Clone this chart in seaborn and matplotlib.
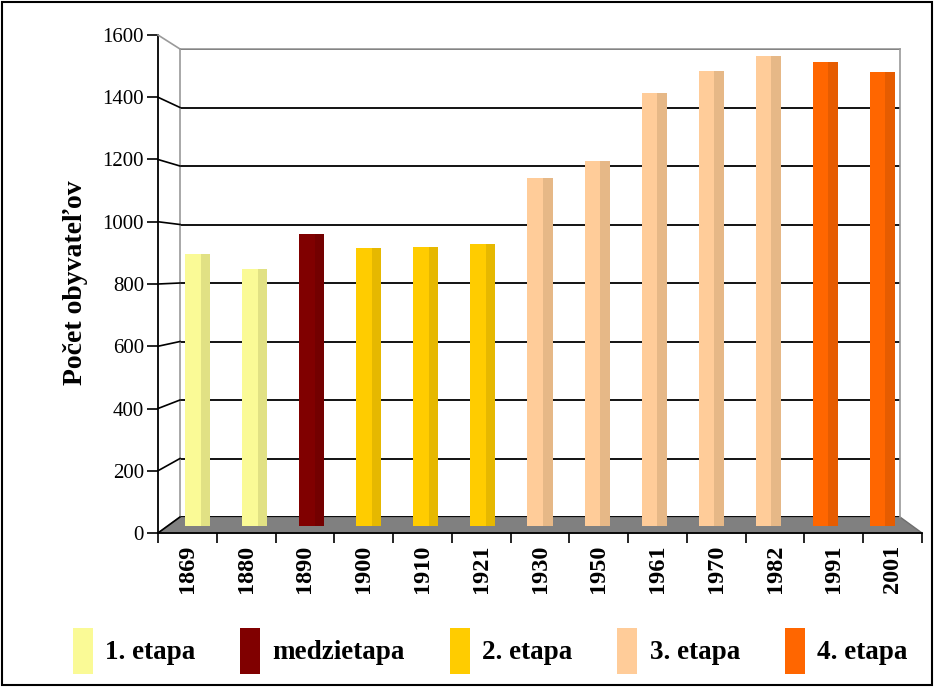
import matplotlib
matplotlib.use("Agg")
import matplotlib.pyplot as plt
import seaborn as sns
import pandas as pd
from matplotlib.patches import Polygon, Rectangle, Patch
from matplotlib.lines import Line2D

# ---------------- data ----------------
years = ["1869", "1880", "1890", "1900", "1910", "1921", "1930",
         "1950", "1961", "1970", "1982", "1991", "2001"]
population = [900, 850, 965, 920, 922, 932, 1152, 1205, 1432, 1505, 1555, 1535, 1500]
stages = ["1. etapa", "1. etapa", "medzietapa", "2. etapa", "2. etapa", "2. etapa",
          "3. etapa", "3. etapa", "3. etapa", "3. etapa", "3. etapa",
          "4. etapa", "4. etapa"]
stage_order = ["1. etapa", "medzietapa", "2. etapa", "3. etapa", "4. etapa"]
stage_colors = ["#FAFA96", "#800000", "#FFCC00", "#FFCC99", "#FF6600"]
y_ticks = [0, 200, 400, 600, 800, 1000, 1200, 1400, 1600]
y_label = "Počet obyvateľov"

df = pd.DataFrame({"year": years, "population": population, "stage": stages})

SERIF = ["Liberation Serif", "DejaVu Serif"]
W, H = 935, 687
fig = plt.figure(figsize=(W / 100, H / 100), dpi=100)
fig.patch.set_facecolor("white")


def box(x0, y0, x1, y1):
    """pixel box (left, top, right, bottom) -> figure fraction rect"""
    return [x0 / W, 1 - y1 / H, (x1 - x0) / W, (y1 - y0) / H]


def fpt(px, py):
    return (px / W, 1 - py / H)


# back wall (gridlines)
ax_back = fig.add_axes(box(180, 49, 900, 517))
ax_back.set_xlim(-0.5, 12.5)
ax_back.set_ylim(0, 1600)
ax_back.set_facecolor("white")
ax_back.set_yticks(y_ticks)
ax_back.set_xticks([])
ax_back.tick_params(axis="y", length=0, labelleft=False)
ax_back.grid(axis="y", color="black", lw=1.3)
ax_back.set_axisbelow(True)
for s in ["left", "top", "right"]:
    ax_back.spines[s].set_color("#9a9a9a")
    ax_back.spines[s].set_linewidth(1.2)
ax_back.spines["bottom"].set_visible(False)

# floor
floor = Polygon([fpt(158, 533), fpt(180, 517), fpt(900, 517), fpt(922, 533)],
                closed=True, transform=fig.transFigure, facecolor="#808080",
                edgecolor="#6e6e6e", lw=1, clip_on=False, zorder=0.5)
ax_back.add_patch(floor)

# bars (mid-depth plane)
ax_mid = fig.add_axes(box(169, 42, 911, 526))
ax_mid.set_facecolor("none")
sns.barplot(data=df, x="year", y="population", hue="stage", hue_order=stage_order,
            palette=stage_colors, dodge=False, width=0.44, ax=ax_mid,
            legend=False, saturation=1, edgecolor="none")
ax_mid.set_xlim(-0.5, 12.5)
ax_mid.set_ylim(0, 1600)
ax_mid.axis("off")
for p in list(ax_mid.patches):
    x0, w, h = p.get_x(), p.get_width(), p.get_height()
    fc = p.get_facecolor()
    shade = (fc[0] * 0.9, fc[1] * 0.9, fc[2] * 0.88, 1)
    ax_mid.add_patch(Rectangle((x0 + w * 0.62, 0), w * 0.38, h,
                               facecolor=shade, edgecolor="none", zorder=p.get_zorder()))

# front axes (scale, ticks)
ax = fig.add_axes(box(158, 35, 922, 533))
ax.set_facecolor("none")
ax.set_xlim(-0.5, 12.5)
ax.set_ylim(0, 1600)
ax.set_yticks(y_ticks)
ax.set_yticklabels([str(v) for v in y_ticks], family=SERIF, fontsize=15)
ax.set_xticks(range(len(years)))
ax.set_xticklabels(years, rotation=90, family=SERIF, fontsize=17.5, fontweight="bold")
ax.set_xticks([i - 0.5 for i in range(len(years) + 1)], minor=True)
ax.tick_params(axis="x", which="major", length=0, pad=8.5)
ax.tick_params(axis="x", which="minor", length=7, width=1.2, direction="out")
ax.tick_params(axis="y", length=8, width=1.2, direction="out", pad=2)
for s in ["top", "right"]:
    ax.spines[s].set_visible(False)
for s in ["left", "bottom"]:
    ax.spines[s].set_linewidth(1.3)
    ax.spines[s].set_color("black")

# connectors from the front axis to the back wall
fig.canvas.draw()
inv = fig.transFigure.inverted()
for v in y_ticks:
    p0 = inv.transform(ax.transData.transform((-0.5, v)))
    p1 = inv.transform(ax_back.transData.transform((-0.5, v)))
    col = "#9a9a9a" if v == y_ticks[-1] else "black"
    fig.add_artist(Line2D([p0[0], p1[0]], [p0[1], p1[1]], color=col, lw=1.2,
                          transform=fig.transFigure))

# y label
fig.text(75 / W, 1 - 283 / H, y_label, rotation=90, ha="center", va="center",
         family=SERIF, fontsize=20, fontweight="bold")

# legend
handles = [Patch(facecolor=c, edgecolor="none") for c in stage_colors]
leg = fig.legend(handles, stage_order, loc="center", bbox_to_anchor=(490 / W, 1 - 651 / H),
                 ncol=5, frameon=False, prop={"family": SERIF, "size": 19.5, "weight": "bold"},
                 handlelength=0.75, handleheight=2.2, handletextpad=0.45,
                 columnspacing=1.65, borderpad=0)

# outer frame
fig.add_artist(Rectangle((0.002, 0.003), 0.995, 0.994, transform=fig.transFigure,
                         fill=False, edgecolor="black", lw=1.5))

fig.savefig("out.png", dpi=100)
